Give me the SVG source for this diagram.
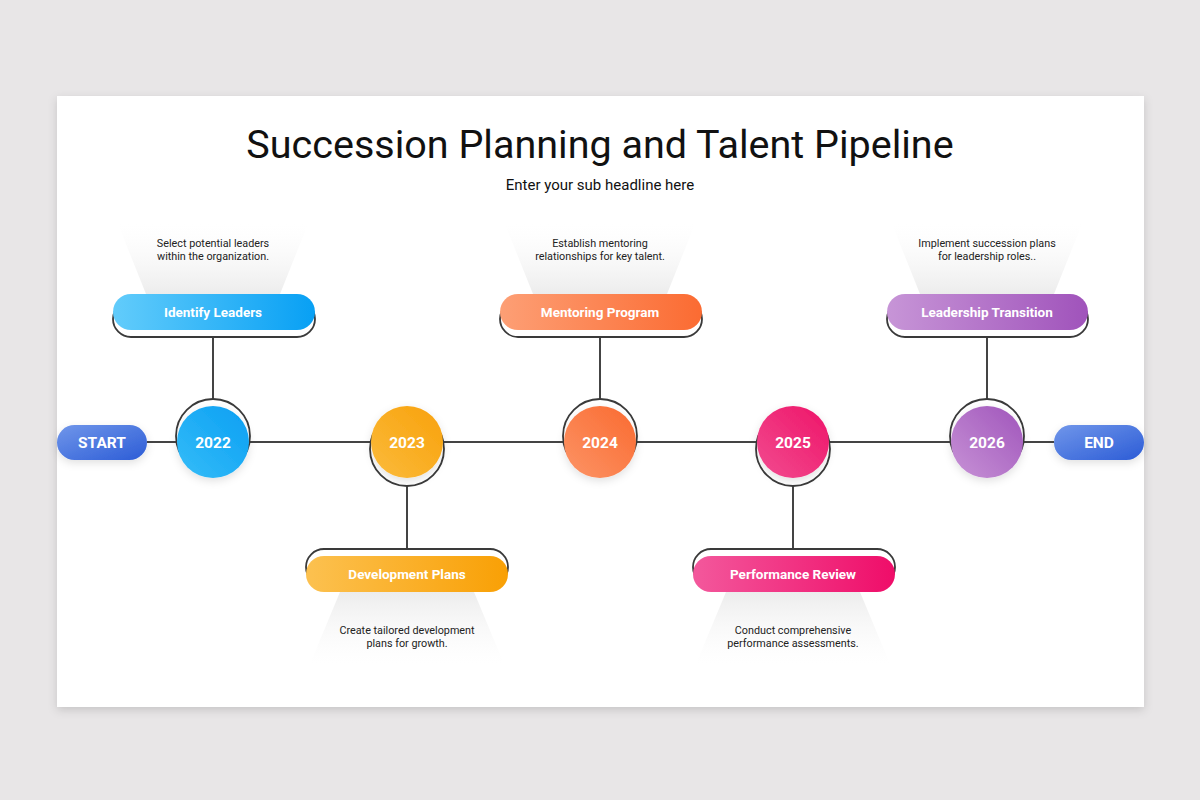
<svg xmlns="http://www.w3.org/2000/svg" width="1200" height="800" viewBox="0 0 1200 800">
<defs>
  <linearGradient id="gBlue" x1="0" y1="0" x2="1" y2="0"><stop offset="0" stop-color="#62ccfb"/><stop offset="1" stop-color="#08a0f4"/></linearGradient>
  <linearGradient id="gAmber" x1="0" y1="0" x2="1" y2="0"><stop offset="0" stop-color="#fcc150"/><stop offset="1" stop-color="#f9a005"/></linearGradient>
  <linearGradient id="gOrange" x1="0" y1="0" x2="1" y2="0"><stop offset="0" stop-color="#fd9f75"/><stop offset="1" stop-color="#fb6b32"/></linearGradient>
  <linearGradient id="gPink" x1="0" y1="0" x2="1" y2="0"><stop offset="0" stop-color="#f3589c"/><stop offset="1" stop-color="#ef0d69"/></linearGradient>
  <linearGradient id="gPurple" x1="0" y1="0" x2="1" y2="0"><stop offset="0" stop-color="#c795d7"/><stop offset="1" stop-color="#a053bb"/></linearGradient>
  <linearGradient id="gStart" x1="0" y1="0" x2="1" y2="1"><stop offset="0" stop-color="#7096ea"/><stop offset="1" stop-color="#2c5cd6"/></linearGradient>
  <linearGradient id="cBlue" x1="0" y1="1" x2="1" y2="0"><stop offset="0" stop-color="#36bdf8"/><stop offset="1" stop-color="#0a9ff3"/></linearGradient>
  <linearGradient id="cAmber" x1="0" y1="1" x2="1" y2="0"><stop offset="0" stop-color="#fbbb3c"/><stop offset="1" stop-color="#f8a10b"/></linearGradient>
  <linearGradient id="cOrange" x1="0" y1="1" x2="1" y2="0"><stop offset="0" stop-color="#fc9466"/><stop offset="1" stop-color="#fa6a30"/></linearGradient>
  <linearGradient id="cPink" x1="0" y1="1" x2="1" y2="0"><stop offset="0" stop-color="#f24c90"/><stop offset="1" stop-color="#ee1468"/></linearGradient>
  <linearGradient id="cPurple" x1="0" y1="1" x2="1" y2="0"><stop offset="0" stop-color="#c792d6"/><stop offset="1" stop-color="#a055bb"/></linearGradient>
  <linearGradient id="shadeUp" x1="0" y1="1" x2="0" y2="0"><stop offset="0" stop-color="#ececec"/><stop offset="1" stop-color="#ffffff" stop-opacity="0.3"/></linearGradient>
  <linearGradient id="shadeDown" x1="0" y1="0" x2="0" y2="1"><stop offset="0" stop-color="#ececec"/><stop offset="1" stop-color="#ffffff" stop-opacity="0.3"/></linearGradient>
  <filter id="cardShadow" x="-5%" y="-5%" width="110%" height="110%"><feDropShadow dx="0" dy="3" stdDeviation="5" flood-color="#000" flood-opacity="0.15"/></filter>
  <filter id="soft" x="-30%" y="-30%" width="160%" height="160%"><feDropShadow dx="0" dy="3" stdDeviation="4" flood-color="#000" flood-opacity="0.12"/></filter>
</defs>
<style>
  .t{font-family:Roboto,"Liberation Sans",sans-serif}
  .title{font-size:39.5px;fill:#111}
  .sub{font-size:15px;fill:#111}
  .desc{font-size:10.8px;fill:#222;text-anchor:middle}
  .lbl{font-size:13.5px;font-weight:bold;fill:#fff;text-anchor:middle}
  .yr{font-size:15.5px;font-weight:bold;fill:#fff;text-anchor:middle}
  .ring{fill:#fff;stroke:#3a3a3a;stroke-width:1.8}
  .line{stroke:#444;stroke-width:2;fill:none}
</style>
<rect width="1200" height="800" fill="#e8e6e7"/>
<rect x="57" y="96" width="1087" height="611" fill="#fff" filter="url(#cardShadow)"/>
<text class="t title" x="600" y="158" text-anchor="middle">Succession Planning and Talent Pipeline</text>
<text class="t sub" x="600" y="190" text-anchor="middle">Enter your sub headline here</text>

<g id="connectors">
  <line class="line" x1="147" y1="442" x2="1054" y2="442"/>
  <line class="line" x1="213" y1="337" x2="213" y2="400"/>
  <line class="line" x1="600" y1="337" x2="600" y2="400"/>
  <line class="line" x1="987" y1="337" x2="987" y2="400"/>
  <line class="line" x1="407" y1="486" x2="407" y2="549"/>
  <line class="line" x1="793" y1="486" x2="793" y2="549"/>
</g>

<g id="start">
  <rect x="57" y="425" width="90" height="35" rx="17.5" fill="url(#gStart)" filter="url(#soft)"/>
  <text class="t yr" x="102" y="448">START</text>
</g>
<g id="end">
  <rect x="1054" y="425" width="90" height="35" rx="17.5" fill="url(#gStart)" filter="url(#soft)"/>
  <text class="t yr" x="1099" y="448">END</text>
</g>

<g id="y2022">
  <circle class="ring" cx="213" cy="436" r="37"/>
  <circle cx="213" cy="442" r="36" fill="url(#cBlue)" filter="url(#soft)"/>
  <text class="t yr" x="213" y="448">2022</text>
</g>
<g id="y2023">
  <circle class="ring" cx="407" cy="449" r="37"/>
  <circle cx="407" cy="442" r="36" fill="url(#cAmber)" filter="url(#soft)"/>
  <text class="t yr" x="407" y="448">2023</text>
</g>
<g id="y2024">
  <circle class="ring" cx="600" cy="436" r="37"/>
  <circle cx="600" cy="442" r="36" fill="url(#cOrange)" filter="url(#soft)"/>
  <text class="t yr" x="600" y="448">2024</text>
</g>
<g id="y2025">
  <circle class="ring" cx="793" cy="449" r="37"/>
  <circle cx="793" cy="442" r="36" fill="url(#cPink)" filter="url(#soft)"/>
  <text class="t yr" x="793" y="448">2025</text>
</g>
<g id="y2026">
  <circle class="ring" cx="987" cy="436" r="37"/>
  <circle cx="987" cy="442" r="36" fill="url(#cPurple)" filter="url(#soft)"/>
  <text class="t yr" x="987" y="448">2026</text>
</g>

<g id="identify-leaders">
  <polygon points="118,224 308,224 280,294 146,294" fill="url(#shadeUp)"/>
  <text class="t desc" x="213" y="247">Select potential leaders</text>
  <text class="t desc" x="213" y="260">within the organization.</text>
  <rect class="ring" x="113" y="301" width="202" height="36" rx="18"/>
  <rect x="113" y="294" width="202" height="36" rx="18" fill="url(#gBlue)"/>
  <text class="t lbl" x="213" y="316.5">Identify Leaders</text>
</g>
<g id="mentoring-program">
  <polygon points="505,224 695,224 667,294 533,294" fill="url(#shadeUp)"/>
  <text class="t desc" x="600" y="247">Establish mentoring</text>
  <text class="t desc" x="600" y="260">relationships for key talent.</text>
  <rect class="ring" x="500" y="301" width="202" height="36" rx="18"/>
  <rect x="500" y="294" width="202" height="36" rx="18" fill="url(#gOrange)"/>
  <text class="t lbl" x="600" y="316.5">Mentoring Program</text>
</g>
<g id="leadership-transition">
  <polygon points="892,224 1082,224 1054,294 920,294" fill="url(#shadeUp)"/>
  <text class="t desc" x="987" y="247">Implement succession plans</text>
  <text class="t desc" x="987" y="260">for leadership roles..</text>
  <rect class="ring" x="887" y="301" width="201" height="36" rx="18"/>
  <rect x="887" y="294" width="201" height="36" rx="18" fill="url(#gPurple)"/>
  <text class="t lbl" x="987" y="316.5">Leadership Transition</text>
</g>
<g id="development-plans">
  <polygon points="340,592 474,592 504,664 310,664" fill="url(#shadeDown)"/>
  <text class="t desc" x="407" y="634">Create tailored development</text>
  <text class="t desc" x="407" y="647">plans for growth.</text>
  <rect class="ring" x="306" y="549" width="202" height="36" rx="18"/>
  <rect x="306" y="556" width="202" height="36" rx="18" fill="url(#gAmber)"/>
  <text class="t lbl" x="407" y="578.5">Development Plans</text>
</g>
<g id="performance-review">
  <polygon points="726,592 860,592 890,664 696,664" fill="url(#shadeDown)"/>
  <text class="t desc" x="793" y="634">Conduct comprehensive</text>
  <text class="t desc" x="793" y="647">performance assessments.</text>
  <rect class="ring" x="693" y="549" width="202" height="36" rx="18"/>
  <rect x="693" y="556" width="202" height="36" rx="18" fill="url(#gPink)"/>
  <text class="t lbl" x="793" y="578.5">Performance Review</text>
</g>
</svg>
